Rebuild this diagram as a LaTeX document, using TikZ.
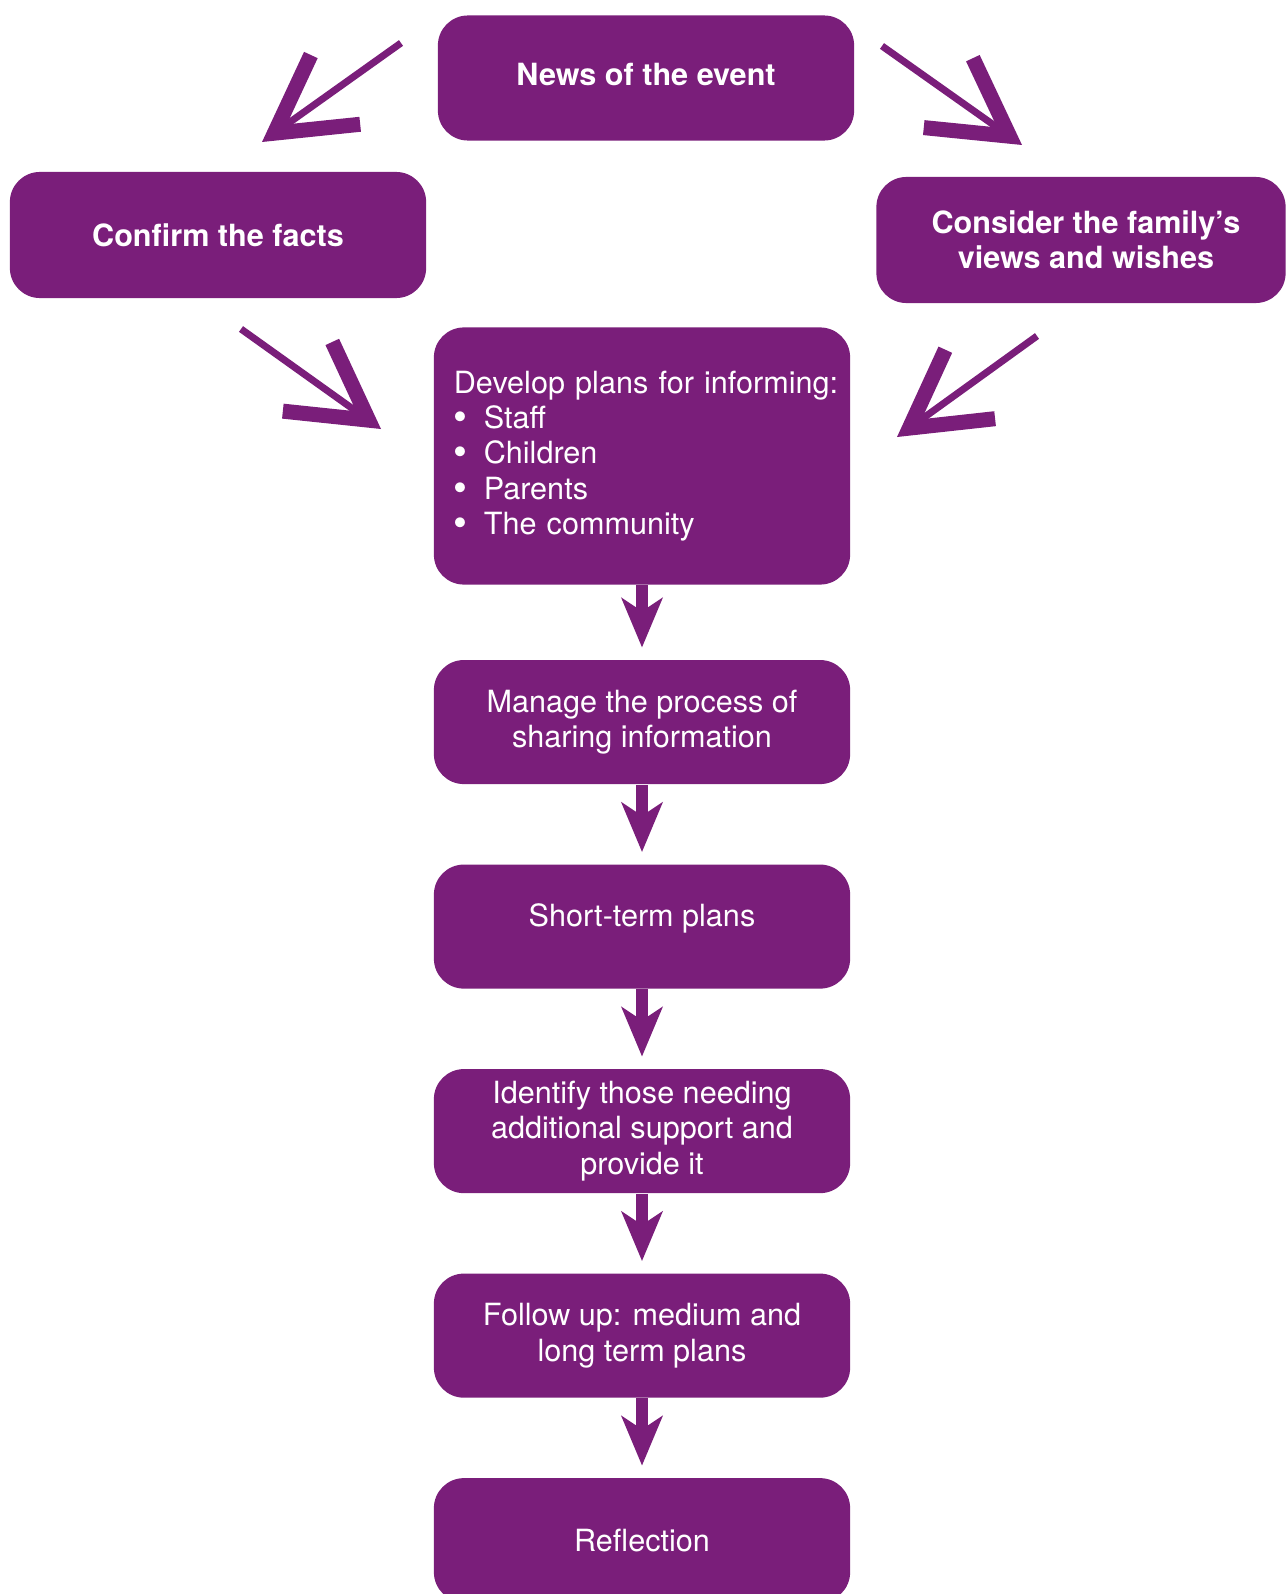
\documentclass[tikz,border=0pt]{standalone}
\usepackage{fontspec}
\setmainfont{TeX Gyre Heros}
\usepackage{xcolor}
\usetikzlibrary{shapes,arrows.meta,positioning}
\definecolor{eventpurple}{RGB}{122,30,122}
\newcommand{\planbullet}{\raisebox{-0.02cm}{\scalebox{1.3}{\textbullet}}\hspace{0.16cm}}

\begin{document}
\begin{tikzpicture}[x=0.01cm, y=-0.01cm, node distance=0.79cm]
    \tikzstyle{stage} = [rectangle, fill=eventpurple, text=white, rounded corners=0.3cm, minimum width=4.16cm, minimum height=1.24cm, inner sep=0.1cm, align=center, font=\fontsize{8.7}{10}\selectfont]
    \tikzstyle{firststage} = [stage, font=\bfseries\fontsize{8.7}{10}\selectfont]
    \tikzstyle{downarrow} = [line width=0.12cm, eventpurple, -{Stealth[length=0.5cm, width=0.42cm, inset=0.14cm, line width=0pt]}, shorten >=0.12cm]
    \tikzstyle{brush} = [line width=0.07cm, eventpurple, -{Straight Barb[length=0.75cm, width=0.85cm, line width=0.15cm]}]

    \useasboundingbox (0,0) rectangle (1287,1594);

    % First reactions - top row
    \node [firststage, minimum height=1.25cm, text depth=0.08cm] (news) at (646,78) {News of the event};
    \node [firststage, minimum height=1.26cm] (facts) at (218,235) {Confirm the facts};
    \node [firststage, minimum width=4.09cm, minimum height=1.26cm] (family) at (1081,240) {\hspace*{0.1cm}Consider the family’s\\\hspace*{0.1cm}views and wishes};

    % Planning column
    \node [stage, minimum height=2.57cm, text width=3.96cm, align=left] (develop) at (642,456)
        {\hspace*{0.1cm}\mbox{Develop plans for informing:}\\
         \hspace*{0.1cm}\planbullet Staff\\
         \hspace*{0.1cm}\planbullet Children\\
         \hspace*{0.1cm}\planbullet Parents\\
         \hspace*{0.1cm}\planbullet The community};
    \node [stage, below=0.74cm of develop] (manage) {Manage the process of\\sharing information};
    \node [stage, below=of manage, text depth=0.24cm] (short) {Short-term plans};
    \node [stage, below=of short] (support) {Identify those needing\\additional support and\\provide it};
    \node [stage, below=of support] (follow) {Follow up: medium and\\long term plans};
    \node [stage, below=of follow] (reflect) {Reflection};

    % Brush arrows between the top boxes
    \coordinate (newsleft) at (401,43);
    \coordinate (factstop) at (262,142);
    \coordinate (newsright) at (882,46);
    \coordinate (familytop) at (1022,145);
    \coordinate (factsbelow) at (241,329);
    \coordinate (developleft) at (381,429);
    \coordinate (familybelow) at (1037,336);
    \coordinate (developright) at (897,437);

    \draw [brush] (newsleft) -- (factstop);
    \draw [brush] (newsright) -- (familytop);
    \draw [brush] (factsbelow) -- (developleft);
    \draw [brush] (familybelow) -- (developright);

    % Down the column
    \draw [downarrow] (develop.south) -- (manage.north);
    \draw [downarrow] (manage.south) -- (short.north);
    \draw [downarrow] (short.south) -- (support.north);
    \draw [downarrow] (support.south) -- (follow.north);
    \draw [downarrow] (follow.south) -- (reflect.north);
\end{tikzpicture}
\end{document}
